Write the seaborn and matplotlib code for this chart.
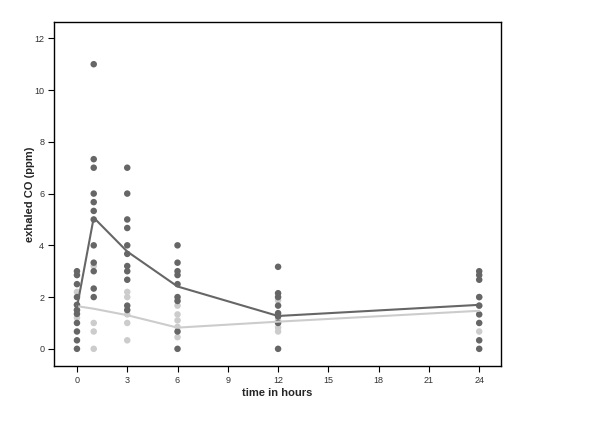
import numpy as np
import pandas as pd
import matplotlib
matplotlib.use("Agg")
import matplotlib.pyplot as plt
import seaborn as sns

# ---- data ----
times = [0, 1, 3, 6, 12, 24]

dark_points = {
    0: [3.0, 2.85, 2.5, 2.0, 1.7, 1.5, 1.35, 1.0, 0.67, 0.33, 0.0],
    1: [11.0, 7.33, 7.0, 6.0, 5.67, 5.33, 5.0, 4.0, 3.33, 3.0, 2.33, 2.0],
    3: [7.0, 6.0, 5.0, 4.67, 4.0, 3.67, 3.2, 3.0, 2.67, 1.67, 1.5],
    6: [4.0, 3.33, 3.0, 2.85, 2.5, 2.0, 1.85, 0.67, 0.0],
    12: [3.17, 2.15, 2.0, 1.67, 1.38, 1.25, 1.0, 0.0],
    24: [3.0, 2.85, 2.67, 2.0, 1.67, 1.33, 1.0, 0.33, 0.0],
}
light_points = {
    0: [2.2, 1.7, 1.2, 1.5],
    1: [3.2, 1.0, 0.67, 0.0],
    3: [2.2, 2.0, 1.33, 1.0, 0.33],
    6: [1.67, 1.33, 1.1, 0.85, 0.45],
    12: [1.87, 1.1, 0.82, 0.67],
    24: [0.67, 1.67, 2.0],
}
dark_means = [1.6, 5.07, 3.76, 2.41, 1.27, 1.70]
light_means = [1.65, 1.55, 1.3, 0.82, 1.05, 1.47]

DARK = "#666666"
LIGHT = "#cccccc"

rows = []
for t in times:
    for v in light_points[t]:
        rows.append({"time": t, "co": v, "group": "light"})
for t in times:
    for v in dark_points[t]:
        rows.append({"time": t, "co": v, "group": "dark"})
pts = pd.DataFrame(rows)

lines = pd.DataFrame({
    "time": times + times,
    "co": light_means + dark_means,
    "group": ["light"] * len(times) + ["dark"] * len(times),
})

sns.set_style("white")
plt.rcParams["font.family"] = ["Liberation Sans", "DejaVu Sans"]

fig = plt.figure(figsize=(6.0, 4.24), dpi=100)
ax = fig.add_axes([0.09, 0.137, 0.745, 0.811])

pal = {"light": LIGHT, "dark": DARK}
sns.scatterplot(data=pts, x="time", y="co", hue="group", palette=pal,
                hue_order=["light", "dark"], s=22, linewidth=0,
                legend=False, ax=ax, zorder=2)
sns.lineplot(data=lines, x="time", y="co", hue="group", palette=pal,
             hue_order=["light", "dark"], linewidth=1.5, legend=False,
             ax=ax, zorder=3)

ax.set_xlim(-1.37, 25.3)
ax.set_ylim(-0.66, 12.63)
ax.set_xticks(np.arange(0, 25, 3))
ax.set_yticks(np.arange(0, 13, 2))
ax.tick_params(axis="both", direction="out", length=4, width=0.8,
               labelsize=6.5, colors="black", labelcolor="#333333", pad=3)
ax.tick_params(bottom=True, left=True)
for sp in ax.spines.values():
    sp.set_visible(True)
    sp.set_color("black")
    sp.set_linewidth(1.0)

ax.set_xlabel("time in hours", fontsize=8, fontweight="bold")
ax.set_ylabel("exhaled CO (ppm)", fontsize=8, fontweight="bold")
ax.xaxis.set_label_coords(0.5, -0.064)
ax.yaxis.set_label_coords(-0.043, 0.5)

fig.savefig("out.png", dpi=100)
